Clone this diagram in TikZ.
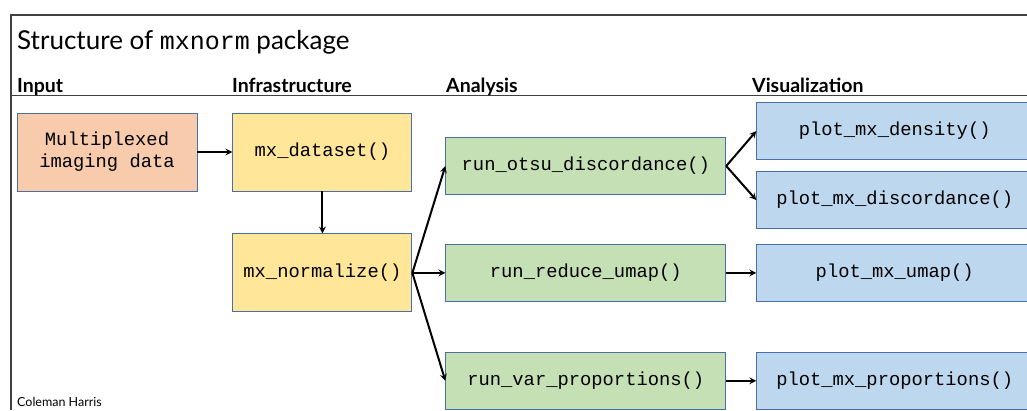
\documentclass[tikz,border=0pt]{standalone}
\usepackage{fontspec}
\setmainfont{Lato}
\newfontfamily\monofnt{Liberation Mono}
\usepackage{tikz}
\usetikzlibrary{positioning}
\definecolor{inpfill}{HTML}{F8CBAD}
\definecolor{infrafill}{HTML}{FFE699}
\definecolor{anafill}{HTML}{C5E0B4}
\definecolor{visfill}{HTML}{BDD7EE}
\definecolor{boxline}{HTML}{4A6FA5}
\definecolor{frameline}{HTML}{404040}
\begin{document}
\begin{tikzpicture}[x=1pt,y=-1pt,
    fbox/.style={draw=boxline,line width=0.9pt,align=center,inner sep=0pt,
      font=\monofnt\fontsize{18.8}{22}\selectfont},
    inbox/.style={fbox,fill=inpfill,minimum width=180pt,minimum height=78pt},
    infbox/.style={fbox,fill=infrafill,minimum width=179pt,minimum height=78pt},
    anbox/.style={fbox,fill=anafill,minimum width=280pt,minimum height=57pt},
    visbox/.style={fbox,fill=visfill,minimum width=276pt,minimum height=57pt},
    hdr/.style={anchor=base west,inner sep=0pt,font=\bfseries\fontsize{19.5}{22}\selectfont},
    arr/.style={-stealth,line width=2pt}]
 \useasboundingbox (0,0) rectangle (1027,410);
 \draw[frameline,line width=1.4pt] (11,410) |- (1030,15);
 \draw[frameline,line width=1pt] (11,95) -- (1030,95);
 \node[anchor=base west,inner sep=0pt,font=\fontsize{26}{30}\selectfont] (title) at (17,49)
  {Structure of {\monofnt\fontsize{25}{28}\selectfont mxnorm} package};
 % column headers
 \node[hdr] (hinp) at (17,92) {Input};
 \node[hdr] (hinf) at (232,92) {Infrastructure};
 \node[hdr] (hana) at (446,92) {Analysis};
 \node[hdr] (hvis) at (752,92) {Visualization};
 % boxes
 \node[inbox] (inp) at (107,152) {Multiplexed\\imaging data};
 \node[infbox,right=35pt of inp] (ds) {mx\_dataset()};
 \node[infbox,below=42pt of ds] (norm) {mx\_normalize()};
 \node[anbox,right=33pt of norm] (umap) {run\_reduce\_umap()};
 \node[anbox,above=49pt of umap] (otsu) {run\_otsu\_discordance()};
 \node[anbox,below=50pt of umap] (var) {run\_var\_proportions()};
 \node[visbox,right=30pt of umap] (pumap) {plot\_mx\_umap()};
 \node[visbox,above=15pt of pumap] (pdisc) {plot\_mx\_discordance()};
 \node[visbox,above=11pt of pdisc] (pdens) {plot\_mx\_density()};
 \node[visbox,right=30pt of var] (pprop) {plot\_mx\_proportions()};
 % arrows
 \draw[arr] (inp) -- (ds);
 \draw[arr] (ds) -- (norm);
 \path foreach \X in {otsu,umap,var} {(norm.east) edge[arr] (\X.west)};
 \path foreach \X in {pdens,pdisc} {(otsu.east) edge[arr] (\X.west)};
 \draw[arr] (umap) -- (pumap);
 \draw[arr] (var) -- (pprop);
 \node[anchor=base west,inner sep=0pt,font=\fontsize{12.5}{15}\selectfont] (auth) at (17,406) {Coleman Harris};
\end{tikzpicture}
\end{document}
